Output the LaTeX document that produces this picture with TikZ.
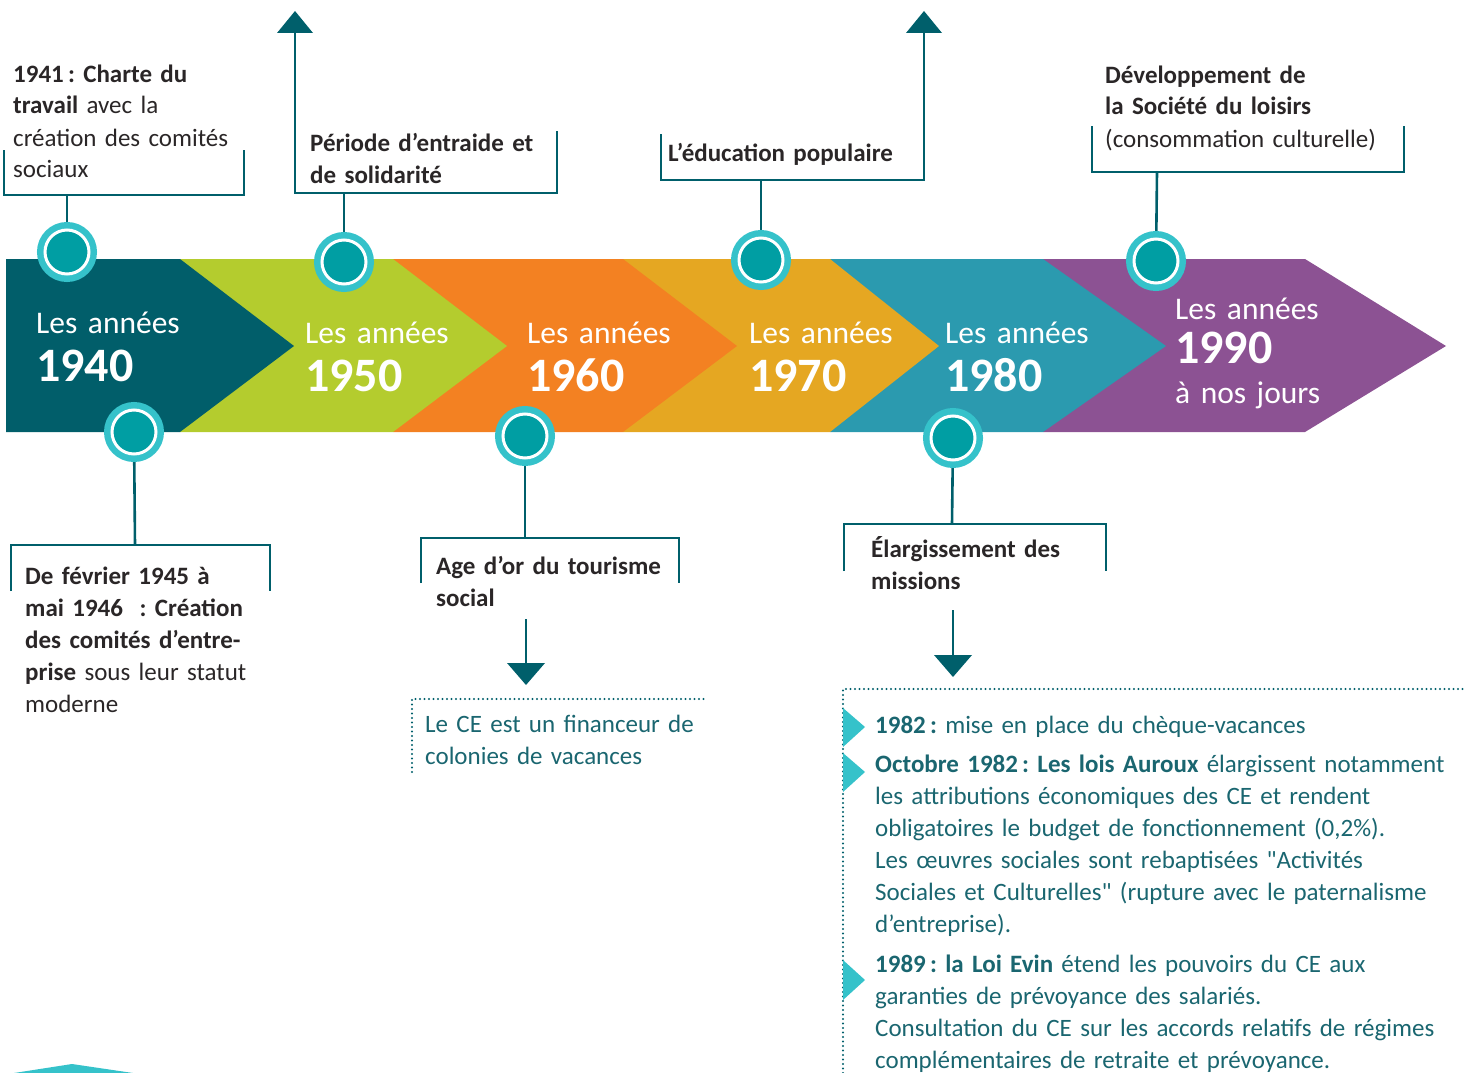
\documentclass[tikz,border=0pt]{standalone}
\usepackage{fontspec}
\setmainfont{Carlito}
\definecolor{lc}{HTML}{005F6B}
\definecolor{dteal}{HTML}{015E6A}
\definecolor{lime}{HTML}{B4CC2E}
\definecolor{orng}{HTML}{F38122}
\definecolor{gold}{HTML}{E5A722}
\definecolor{bteal}{HTML}{2B9AAF}
\definecolor{purp}{HTML}{8C5293}
\definecolor{cy}{HTML}{35C2CA}
\definecolor{ci}{HTML}{009EA3}
\definecolor{tx}{HTML}{2A2627}
\definecolor{tt}{HTML}{1A6670}
\frenchspacing
\begin{document}
\begin{tikzpicture}[x=1pt,y=-1pt,
  conn/.style={draw=lc, line width=2.6pt},
  ring/.style={circle, inner sep=0pt, outer sep=0pt, minimum size=44pt, fill=ci, draw=white, line width=3pt, preaction={draw=cy, line width=16pt}},
  band/.style={text=white, anchor=base west, inner sep=0pt, align=left, text width=220pt, font=\fontsize{31.5}{48}\selectfont},
  lbl/.style={text=tx, anchor=base west, inner sep=0pt, align=left, font=\fontsize{25}{32}\selectfont},
  info/.style={text=tt, anchor=base west, inner sep=0pt, align=left, font=\fontsize{25}{32}\selectfont},
  tipfill/.style={fill=lc},
  dots/.style={draw=lc, line width=2.2pt, line cap=round, dash pattern=on 0pt off 4.5pt},
  bullet/.style={fill=cy}]
\useasboundingbox (0,0) rectangle (1475,1073);
% band
\fill[purp] (1043,259) -- (1305,259) -- (1446,346) -- (1305,432) -- (1043,432) -- cycle;
\fill[bteal] (830,259) -- (1043,259) -- (1166,346) -- (1043,432) -- (830,432) -- cycle;
\fill[gold] (623,259) -- (830,259) -- (939,346) -- (830,432) -- (623,432) -- cycle;
\fill[orng] (393,259) -- (623,259) -- (737,346) -- (623,432) -- (393,432) -- cycle;
\fill[lime] (180,259) -- (393,259) -- (507,346) -- (393,432) -- (180,432) -- cycle;
\fill[dteal] (6,259) -- (180,259) -- (294,346) -- (180,432) -- (6,432) -- cycle;
% band labels
\node[band] (y40) at (36,333) {Les années\\{\fontsize{48}{48}\selectfont\bfseries 1940}};
\node[band] (y50) at (305,343) {Les années\\{\fontsize{48}{48}\selectfont\bfseries 1950}};
\node[band] (y60) at (527,343) {Les années\\{\fontsize{48}{48}\selectfont\bfseries 1960}};
\node[band] (y70) at (749,343) {Les années\\{\fontsize{48}{48}\selectfont\bfseries 1970}};
\node[band] (y80) at (945,343) {Les années\\{\fontsize{48}{48}\selectfont\bfseries 1980}};
\node[band, font=\fontsize{31.5}{40}\selectfont] (y90) at (1175,319) {Les années\\[4pt]{\fontsize{48}{40}\selectfont\bfseries 1990}\\à nos jours};
% circle positions
\coordinate (p1) at (67,252);
\coordinate (p2) at (344,262);
\coordinate (p3) at (761,260);
\coordinate (p4) at (1156,261);
\coordinate (p5) at (134,432);
\coordinate (p6) at (525,436);
\coordinate (p7) at (953,438);
% top brackets
\coordinate (b1) at (67,195);
\draw[conn] (4,150) -- (4,195) -- (244,195) -- (244,150);
\draw[conn] (b1) -- (p1);
\coordinate (b2) at (344,193);
\coordinate (up2) at (295,33);
\draw[conn] (up2) -- (295,193) -- (557,193) -- (557,131);
\fill[tipfill] (277,33) -- (295,11) -- (313,33) -- cycle;
\draw[conn] (b2) -- (p2);
\coordinate (b3) at (761,180);
\coordinate (up3) at (924,33);
\draw[conn] (661,134) -- (661,180) -- (924,180) -- (up3);
\fill[tipfill] (906,33) -- (924,11) -- (942,33) -- cycle;
\draw[conn] (b3) -- (p3);
\coordinate (b4) at (1157,172);
\draw[conn] (1092,126) -- (1092,172) -- (1404,172) -- (1404,126);
\draw[conn] (b4) -- (p4);
% bottom brackets
\coordinate (b5) at (135,545);
\draw[conn] (11,591) -- (11,545) -- (270,545) -- (270,591);
\draw[conn] (p5) -- (b5);
\coordinate (b6) at (525,538);
\draw[conn] (421,583) -- (421,538) -- (679,538) -- (679,583);
\draw[conn] (p6) -- (b6);
\coordinate (a6s) at (526,619);
\coordinate (a6e) at (526,665);
\draw[conn] (a6s) -- (a6e);
\fill[tipfill] (507,663) -- (545,663) -- (526,685) -- cycle;
\coordinate (b7) at (952,524);
\draw[conn] (844,571) -- (844,524) -- (1106,524) -- (1106,571);
\draw[conn] (p7) -- (b7);
\coordinate (a7s) at (953,610);
\coordinate (a7e) at (953,657);
\draw[conn] (a7s) -- (a7e);
\fill[tipfill] (934,655) -- (972,655) -- (953,677) -- cycle;
% circles
\foreach \p in {p1,p2,p3,p4,p5,p6,p7} \node[ring] (c\p) at (\p) {};
% dotted boxes
\draw[dots] (412,772) -- (412,699) -- (706,699);
\draw[dots] (843,1073) -- (843,689) -- (1465,689);
% top texts
\node[lbl, text width=240pt] (t1) at (13,82) {\textbf{1941\,: Charte du}\\\textbf{travail} avec la\\création des comités\\sociaux};
\node[lbl, text width=250pt] (t2) at (310,151) {\textbf{Période d’entraide et}\\\textbf{de solidarité}};
\node[lbl, text width=260pt] (t3) at (668,161) {\textbf{L’éducation populaire}};
\node[lbl, text width=300pt] (t4) at (1105,83) {\textbf{Développement de}\\\textbf{la Société du loisirs}\\(consommation culturelle)};
% bottom texts
\node[lbl, text width=250pt] (t5) at (25,584) {\textbf{De février 1945 à}\\\textbf{mai 1946\ \ : Création}\\\textbf{des comités d’entre-}\\\textbf{prise} sous leur statut\\moderne};
\node[lbl, text width=260pt] (t6) at (436,574) {\textbf{Age d’or du tourisme}\\\textbf{social}};
\node[lbl, text width=260pt] (t7) at (871,557) {\textbf{Élargissement des}\\\textbf{missions}};
\node[info, text width=290pt] (t8) at (425,732) {Le CE est un financeur de\\colonies de vacances};
% bullets
\fill[bullet] (843,708) -- (865,727) -- (843,747) -- cycle;
\fill[bullet] (843,753) -- (865,772) -- (843,792) -- cycle;
\fill[bullet] (843,960) -- (865,980) -- (843,1000) -- cycle;
\node[info, text width=610pt] (t9) at (875,733) {\textbf{1982\,:} mise en place du chèque-vacances\\[7pt]
\textbf{Octobre 1982\,: Les lois Auroux} élargissent notamment\\
les attributions économiques des CE et rendent\\
obligatoires le budget de fonctionnement (0,2\%).\\
Les œuvres sociales sont rebaptisées \textquotedbl Activités\\
Sociales et Culturelles\textquotedbl\ (rupture avec le paternalisme\\
d’entreprise).\\[8pt]
\textbf{1989\,: la Loi Evin} étend les pouvoirs du CE aux\\
garanties de prévoyance des salariés.\\
Consultation du CE sur les accords relatifs de régimes\\
complémentaires de retraite et prévoyance.};
% cut-off shape bottom left
\fill[cy] (14,1073) -- (72,1064) -- (133,1073) -- cycle;
\end{tikzpicture}
\end{document}
